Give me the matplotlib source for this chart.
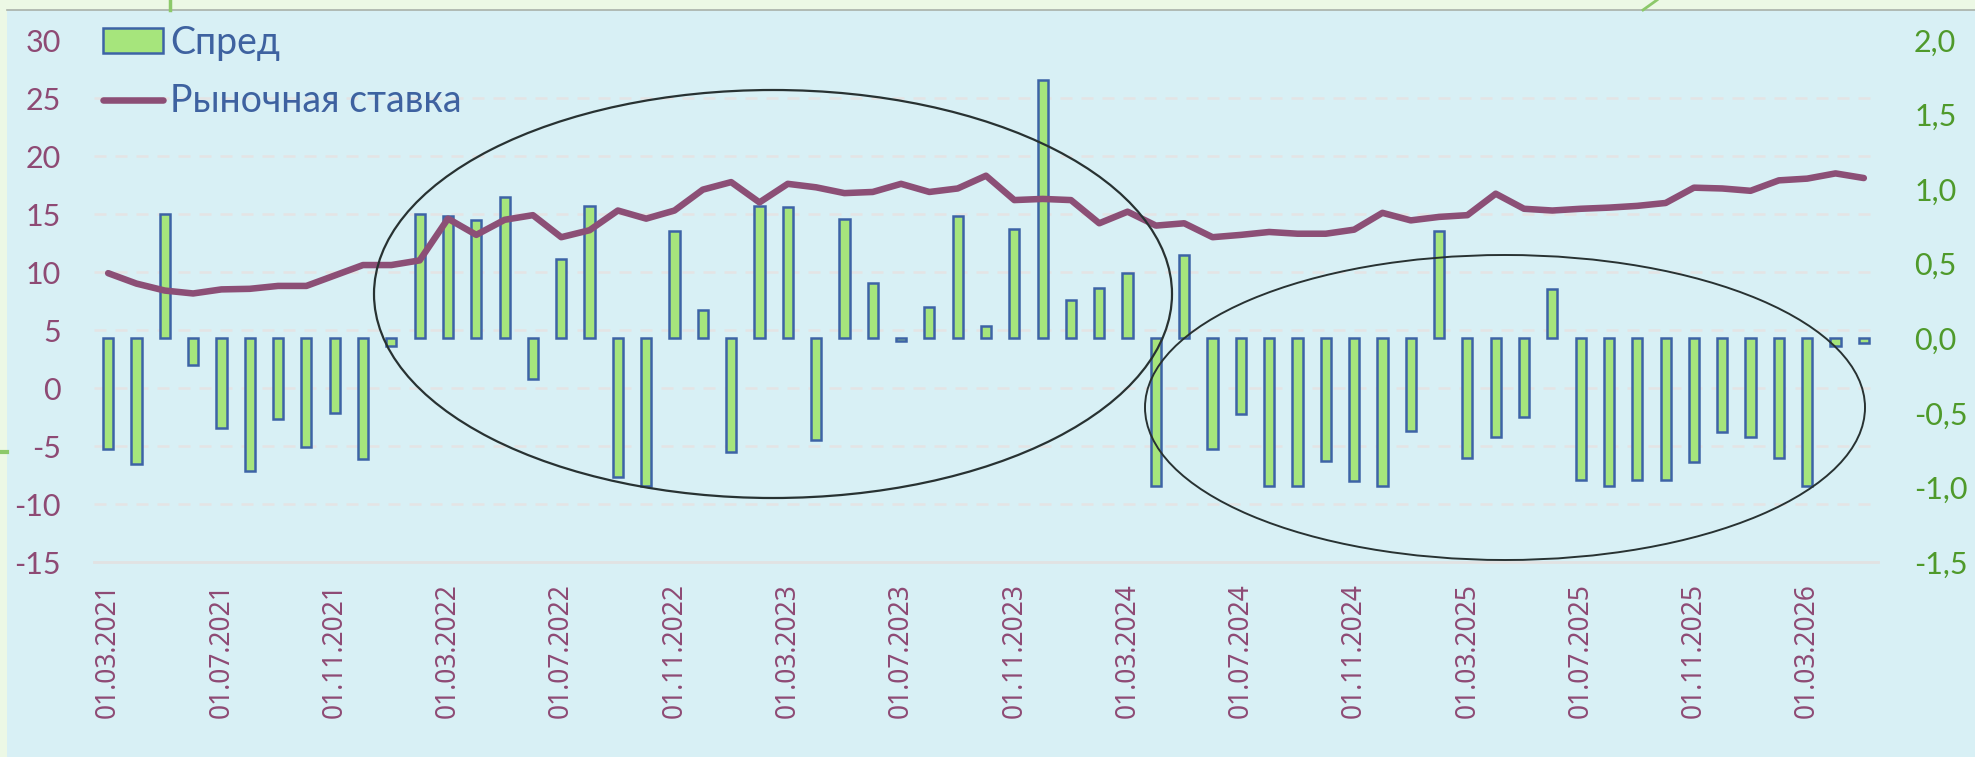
import matplotlib
matplotlib.use('Agg')
import matplotlib.pyplot as plt
from matplotlib.patches import Ellipse, Rectangle
from matplotlib.lines import Line2D
from matplotlib.ticker import FuncFormatter
import numpy as np
import pandas as pd

plt.rcParams['axes.unicode_minus'] = False

# monthly points, 01.03.2021 .. 01.05.2026
dates = pd.date_range('2021-03-01', periods=63, freq='MS')

# spread, right axis
spread = [-0.74, -0.84, 0.83, -0.18, -0.60, -0.89, -0.54, -0.73, -0.50, -0.81,
          -0.05, 0.83, 0.82, 0.79, 0.95, -0.27, 0.53, 0.89, -0.93, -0.99,
          0.72, 0.19, -0.76, 0.89, 0.88, -0.68, 0.80, 0.37, -0.02, 0.21,
          0.82, 0.08, 0.73, 1.73, 0.26, 0.34, 0.44, -0.99, 0.56, -0.74,
          -0.51, -0.99, -0.99, -0.82, -0.955, -0.99, -0.62, 0.72, -0.80, -0.66,
          -0.53, 0.33, -0.95, -0.99, -0.95, -0.95, -0.83, -0.63, -0.66, -0.80,
          -0.99, -0.05, -0.03]

# market rate, left axis
rate = [9.9, 9.0, 8.4, 8.15, 8.5, 8.55, 8.8, 8.8, 9.7, 10.6,
        10.6, 11.0, 14.6, 13.2, 14.5, 14.9, 13.0, 13.6, 15.3, 14.6,
        15.3, 17.1, 17.75, 16.0, 17.6, 17.3, 16.8, 16.9, 17.6, 16.9,
        17.2, 18.3, 16.2, 16.3, 16.2, 14.2, 15.2, 14.0, 14.2, 13.0,
        13.2, 13.45, 13.3, 13.3, 13.65, 15.1, 14.45, 14.75, 14.9, 16.75,
        15.45, 15.3, 15.45, 15.55, 15.7, 15.95, 17.27, 17.2, 17.0, 17.9,
        18.05, 18.5, 18.1]

tick_step = 4

W, H = 1975, 757
fig = plt.figure(figsize=(W / 100, H / 100), dpi=100)
fig.patch.set_facecolor('#ecf8e5')
fig.add_artist(Rectangle((7 / W, 0), 1, 1 - 10 / H, transform=fig.transFigure,
                         facecolor='#d8f0f5', edgecolor='none', zorder=-1))

x = np.arange(len(dates))

ax = fig.add_axes([94 / W, 1 - 562 / H, (1878 - 94) / W, (562 - 40) / H])
ax.set_facecolor('none')
bars = ax.bar(x, spread, width=0.36, color='#a6e57c', edgecolor='#3d63a6', lw=1.8, zorder=3)
ax.set_xlim(-0.5, len(dates) - 0.5)
ax.set_ylim(-1.5, 2.0)

ax2 = ax.twinx()
line, = ax2.plot(x, rate, color='#8c4f76', lw=4.7, solid_capstyle='round', solid_joinstyle='round')
ax2.set_ylim(-15, 30)

# right axis (spread)
ax.yaxis.tick_right()
ax.set_yticks(np.arange(-1.5, 2.01, 0.5))
ax.yaxis.set_major_formatter(FuncFormatter(lambda v, p: f'{v:.1f}'.replace('.', ',')))
ax.tick_params(axis='y', length=0, pad=26, labelcolor='#4f9a2b', labelsize=22)
for t in ax.get_yticklabels():
    t.set_family('Lato')

# gridlines follow the left scale, drawn behind the bars
ax.set_yticks(np.linspace(-1.5, 2.0, 10)[1:], minor=True)
ax.tick_params(axis='y', which='minor', length=0)
ax.grid(True, which='minor', axis='y', color='#e4e4e4', lw=1.8, ls=(0, (4.8, 3.6)), zorder=0)
ax.grid(False, which='major')

for s in ['top', 'left', 'right']:
    ax.spines[s].set_visible(False)
ax.spines['bottom'].set_color('#e2e2e2')
ax.spines['bottom'].set_linewidth(2)

ax.set_xticks(x[::tick_step])
ax.set_xticklabels(dates[::tick_step].strftime('%d.%m.%Y'), rotation=90,
                   family='Noto Sans', fontsize=19, color='#8e4a74')
ax.tick_params(axis='x', length=0, pad=15)

# left axis (rate)
ax2.yaxis.tick_left()
ax2.set_yticks(range(-15, 31, 5))
ax2.tick_params(axis='y', length=0, pad=24, labelcolor='#8e4a74', labelsize=22)
for t in ax2.get_yticklabels():
    t.set_family('Lato')
for s in ax2.spines.values():
    s.set_visible(False)

ax2.legend([bars, line], ['Спред', 'Рыночная ставка'], loc='upper left',
           bbox_to_anchor=(103 / W, 1 - 25 / H), bbox_transform=fig.transFigure,
           frameon=False, borderpad=0, borderaxespad=0, handlelength=1.6,
           handleheight=0.64, handletextpad=0.2, labelspacing=0.6,
           prop={'family': ['Lato', 'Open Sans'], 'size': 27}, labelcolor='#3e62a0')

# hand-drawn ellipses
fig.add_artist(Ellipse((773 / W, 1 - 294 / H), 798 / W, 408 / H, transform=fig.transFigure,
                       fill=False, edgecolor='#283232', lw=1.6, zorder=5))
fig.add_artist(Ellipse((1505 / W, 1 - 407.5 / H), 720 / W, 305 / H, transform=fig.transFigure,
                       fill=False, edgecolor='#283232', lw=1.4, zorder=5))

# screenshot frame bits
fig.add_artist(Line2D([7 / W, 1], [1 - 10 / H] * 2, transform=fig.transFigure, color='#a9b1a9', lw=1.2))
fig.add_artist(Line2D([170 / W] * 2, [1 - 10 / H, 1], transform=fig.transFigure, color='#8cc96a', lw=2.5))
fig.add_artist(Line2D([1643 / W, 1657 / W], [1 - 10 / H, 1], transform=fig.transFigure, color='#8cc96a', lw=2))
fig.add_artist(Line2D([0, 7 / W], [1 - 452 / H] * 2, transform=fig.transFigure, color='#8cc96a', lw=3))

fig.savefig('out.png', dpi=100)
